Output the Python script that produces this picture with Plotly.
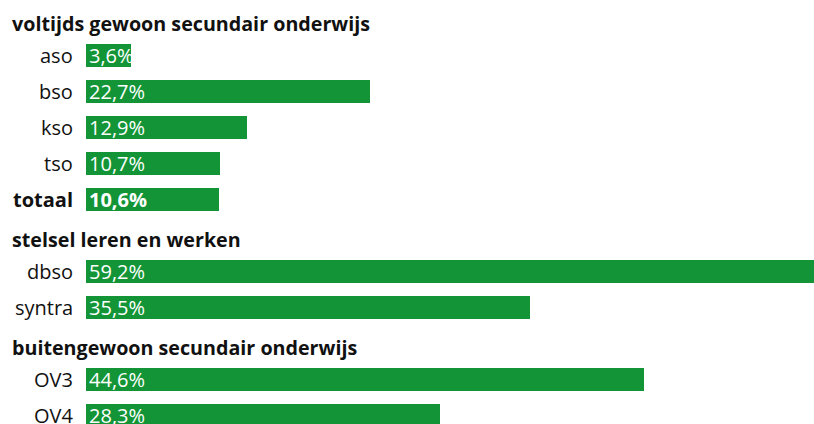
import plotly.graph_objects as go

categories = ["voltijds gewoon secundair onderwijs", "aso", "bso", "kso", "tso", "totaal",
              "stelsel leren en werken", "dbso", "syntra",
              "buitengewoon secundair onderwijs", "OV3", "OV4"]
is_header = [True, False, False, False, False, False, True, False, False, True, False, False]
is_bold = [True, False, False, False, False, True, True, False, False, True, False, False]
values = [None, 3.6, 22.7, 12.9, 10.7, 10.6, None, 59.2, 35.5, None, 44.6, 28.3]
value_labels = ["", "3,6%", "22,7%", "12,9%", "10,7%", "<b>10,6%</b>", "", "59,2%", "35,5%", "", "44,6%", "28,3%"]

GREEN = "#139537"
FONT = "Open Sans"
W, H = 814, 424

fig = go.Figure()
fig.add_trace(go.Bar(
    y=categories, x=values, orientation="h",
    marker=dict(color=GREEN, line=dict(width=0)),
    width=0.64,
    text=value_labels, textposition="inside", insidetextanchor="start",
    textfont=dict(color="white", size=20, family=FONT),
    constraintext="none", cliponaxis=True,
    hoverinfo="skip",
))

annotations = []
for cat, hdr, bold in zip(categories, is_header, is_bold):
    txt = f"<b>{cat}</b>" if bold else cat
    if hdr:
        annotations.append(dict(x=10/W, xref="paper", y=cat, yref="y", text=txt,
                                showarrow=False, xanchor="left", yanchor="middle", yshift=-4,
                                font=dict(size=19.7, color="#111111", family=FONT)))
    else:
        annotations.append(dict(x=75/W, xref="paper", y=cat, yref="y", text=txt,
                                showarrow=False, xanchor="right", yanchor="middle",
                                font=dict(size=20, color="#111111", family=FONT)))

fig.update_layout(
    width=W, height=H,
    margin=dict(l=0, r=0, t=0, b=0),
    paper_bgcolor="white", plot_bgcolor="white",
    showlegend=False,
    bargap=0,
    annotations=annotations,
    font=dict(family=FONT),
    xaxis=dict(domain=[86/W, 1], range=[0, 58.2], visible=False, fixedrange=True),
    yaxis=dict(type="category", categoryorder="array", categoryarray=categories,
               range=[11.24, -0.538], visible=False, fixedrange=True),
)

fig.write_html("out.html",
               config={"displayModeBar": False, "staticPlot": True},
               post_script="document.body.style.margin='0';document.body.style.overflow='hidden';")
